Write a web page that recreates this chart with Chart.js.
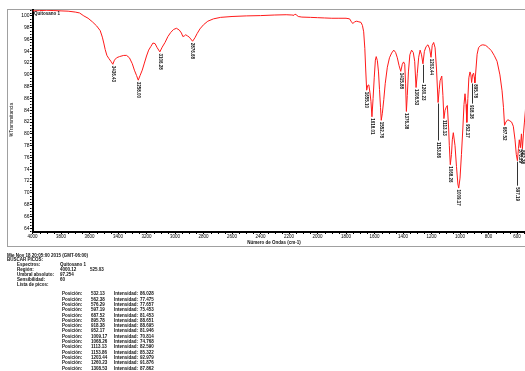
<!DOCTYPE html>
<html><head><meta charset="utf-8">
<script src="https://cdn.jsdelivr.net/npm/chart.js@4.4.1/dist/chart.umd.min.js"></script>
<style>
html,body{margin:0;padding:0;width:525px;height:371px;overflow:hidden;background:#fff;}
#wrap{position:relative;width:525px;height:371px;overflow:hidden;font-family:"Liberation Sans",Arial,sans-serif;color:#000;}
#frame{position:absolute;left:7px;top:9px;width:560px;height:238px;border:1px solid #a0a0a0;box-sizing:border-box;}
canvas{position:absolute;left:0;top:0;}
.t{position:absolute;white-space:nowrap;font-size:4.5px;line-height:5px;height:5px;font-weight:bold;color:#111;}
</style></head>
<body><div id="wrap">
<div id="frame"></div>
<canvas id="c" width="540" height="250"></canvas>
<div class="t" style="left:34px;top:11px">Quitosano 1</div>
<div class="t" style="left:10.5px;top:120px;transform:translate(-50%,-50%) rotate(-90deg);font-size:4.8px;font-weight:normal">%Transmitancia</div>
<div class="t" style="left:274px;top:241.7px;transform:translate(-50%,-50%);">Número de Ondas (cm-1)</div>
<div id="info"></div>
</div>
<script>
// ---- spectrum data (wavenumber cm-1, %T) ----
const wavenumbers = [4000.12,3950,3900,3850,3800,3750,3700,3670,3640,3610,3580,3550,3525,3510,3500,3490,3478,3465,3450,3436.43,3425,3410,3390,3360,3340,3320,3300,3285,3270,3258,3245,3230,3215,3200,3185,3170,3155,3140,3125,3106.28,3090,3070,3050,3030,3010,2990,2970,2955,2945,2935,2925,2912,2900,2890,2876.68,2860,2845,2825,2800,2770,2730,2680,2600,2500,2400,2300,2220,2180,2165,2158,2150,2135,2110,2050,2000,1950,1900,1850,1800,1775,1762,1752,1740,1725,1710,1695,1685,1676,1668,1662,1655.10,1648,1640,1632,1625,1618.01,1610,1602,1594,1588,1580,1572,1565,1558,1552.78,1545,1535,1525,1510,1495,1480,1465,1452,1440,1428,1415.88,1405,1396,1388,1382,1376.38,1370,1362,1352,1340,1328,1318,1308.53,1300,1290,1280,1270,1260.23,1250,1238,1225,1213,1203.44,1195,1185,1175,1165,1153.86,1146,1140,1128,1120,1113.13,1105,1097,1089,1080,1075,1068.26,1060,1054,1047,1035,1025,1015,1009.17,1000,990,980,972,965,958,952.17,945,938,930,924,918.38,912,905,900,895.78,888,880,870,855,840,820,800,780,760,740,720,705,695,687.52,678,665,650,638,626,614,605,597.19,590,584,576.29,569,562.38,555,548,541,536,532.13,528,525.03];
const transmittance = [100.85,100.9,100.95,100.9,100.85,100.8,100.65,100.5,100.0,99.6,99.0,98.3,97.5,96.4,95.4,94.3,93.3,92.8,92.3,91.8,92.5,92.9,93.1,93.3,93.3,92.9,91.9,90.8,89.9,89.1,89.9,90.8,92.0,93.2,94.2,94.8,95.4,95.3,94.6,93.9,94.7,95.5,96.5,97.2,97.7,97.9,97.6,97.1,96.5,96.6,96.8,96.6,96.4,96.1,95.7,96.3,97.0,97.8,98.5,99.1,99.5,99.75,99.9,100.0,100.05,100.15,100.2,100.15,100.1,100.3,100.2,99.9,99.8,99.75,99.7,99.65,99.6,99.6,99.6,99.5,99.0,98.7,99.0,99.1,99.0,98.9,98.4,97.3,94.5,91.0,87.4,88.2,88.3,87.0,85.5,82.9,86.0,89.5,92.5,93.1,92.4,90.5,87.5,84.5,82.3,83.5,85.8,88.5,91.3,92.9,93.7,94.2,93.8,92.9,91.6,90.6,91.8,92.2,91.8,88.5,83.8,86.5,90.5,93.4,94.2,93.8,92.3,87.86,90.2,93.0,94.2,93.4,91.88,94.0,94.8,95.1,94.4,92.98,95.0,95.5,94.6,91.0,85.32,87.5,89.0,89.8,86.5,82.59,84.0,84.5,84.8,81.0,78.0,74.77,76.5,79.0,80.2,78.0,74.5,71.5,70.81,72.5,76.5,81.0,85.0,86.8,85.0,81.95,86.0,89.5,90.5,90.0,88.70,90.0,90.3,89.6,88.65,91.0,93.5,94.6,95.0,95.1,95.0,94.6,94.1,93.3,92.3,90.0,87.3,84.5,81.45,82.0,82.4,82.2,82.0,81.3,79.0,76.5,75.45,77.5,79.0,77.66,80.0,77.48,80.0,82.0,84.0,86.8,86.03,87.5,88.0];

// ---- peak picking results ----
const peakWavenumbers = [3436.43,3258.00,3106.28,2876.68,1655.10,1618.01,1552.78,1415.88,1376.38,1308.53,1260.23,1203.44,1153.86,1113.13,1068.26,1009.17,952.17,918.38,895.78,687.52,597.19,576.29,562.38,532.13];
const peakIntensities = [91.80,89.10,93.90,95.70,87.40,82.90,82.30,90.60,83.80,87.862,91.876,92.979,85.322,82.590,74.768,70.814,81.946,88.695,88.651,81.453,75.453,77.657,77.475,86.028];

// ---- axis ticks ----
const xTickValues = [4000,3800,3600,3400,3200,3000,2800,2600,2400,2200,2000,1800,1600,1400,1200,1000,800,600];
const yTickValues = [64,66,68,70,72,74,76,78,80,82,84,86,88,90,92,94,96,98,100];

// ---- header texts ----
const headerDate = "Mie Nov 18 20:05:00 2015 (GMT-06:00)";
const spectrumName = "Quitosano 1";
const regionValues = ["4000.12","525.03"];
const thresholdValue = "97.254";
const sensitivityValue = "60";
const tableRowCount = 15;

// style: leader line lengths for displaced labels (px)
const leaderLen = {"1260.23":19,"1153.86":38,"918.38":21,"597.19":25};

const FONT = '"Liberation Sans", Arial, sans-serif';

const minorTicks = {
  id:'minorTicks',
  afterDraw(chart){
    const ctx = chart.ctx, xs = chart.scales.x, ys = chart.scales.y, a = chart.chartArea;
    ctx.save(); ctx.strokeStyle='#000'; ctx.lineWidth=1; ctx.beginPath();
    for(let v=550; v<=4000; v+=50){ if(v%200===0) continue; const px=Math.round(xs.getPixelForValue(v))+0.5; ctx.moveTo(px,a.bottom+1); ctx.lineTo(px,a.bottom+2.5);} 
    for(let v=63.5; v<=101; v+=0.5){ if(v%2===0) continue; const py=Math.round(ys.getPixelForValue(v))+0.5; ctx.moveTo(a.left-1,py); ctx.lineTo(a.left-2.5,py);} 
    ctx.stroke(); ctx.restore();
  }
};

const peakLabels = {
  id:'peakLabels',
  afterDatasetsDraw(chart){
    const ctx = chart.ctx, xs = chart.scales.x, ys = chart.scales.y;
    ctx.save();
    ctx.font = 'bold 4.5px ' + FONT;
    peakWavenumbers.forEach((wn,i)=>{
      const txt = wn.toFixed(2);
      const px = xs.getPixelForValue(wn), py = ys.getPixelForValue(peakIntensities[i]);
      const L = leaderLen[txt] || 0;
      if(L>0){ ctx.strokeStyle='#333'; ctx.lineWidth=1; ctx.beginPath(); ctx.moveTo(Math.round(px)+0.5,py+1); ctx.lineTo(Math.round(px)+0.5,py+L); ctx.stroke(); }
      ctx.save(); ctx.translate(px, py + L + 1.5); ctx.rotate(Math.PI/2);
      ctx.fillStyle='#111'; ctx.textAlign='left'; ctx.textBaseline='middle';
      ctx.fillText(txt,0,0); ctx.restore();
    });
    ctx.restore();
  }
};

const pts = wavenumbers.map((w,i)=>({x:w,y:transmittance[i]}));

new Chart(document.getElementById('c'),{
  type:'scatter',
  data:{datasets:[{data:pts,showLine:true,borderColor:'#ff1a1a',borderWidth:1,pointRadius:0,tension:0,fill:false}]},
  options:{
    responsive:false, animation:false, events:[],
    layout:{padding:{left:0,top:10,right:12.3,bottom:0}},
    plugins:{legend:{display:false},tooltip:{enabled:false},title:{display:false}},
    scales:{
      x:{type:'linear',reverse:true,min:525.03,max:4000.12,
        afterBuildTicks:a=>{a.ticks=xTickValues.map(v=>({value:v}));},
        afterFit:s=>{s.height=18.5;},
        ticks:{autoSkip:false,maxRotation:0,minRotation:0,padding:0,color:'#000',font:{size:4.5,family:FONT},callback:v=>String(v)},
        grid:{display:true,drawOnChartArea:false,drawTicks:true,tickLength:2.5,tickColor:'#000',tickWidth:1},
        border:{display:true,color:'#000',width:2}},
      y:{type:'linear',min:63.45,max:101,
        afterBuildTicks:a=>{a.ticks=yTickValues.map(v=>({value:v}));},
        afterFit:s=>{s.width=32.5;},
        ticks:{autoSkip:false,padding:0.5,color:'#000',font:{size:5,family:FONT},callback:v=>String(v)},
        grid:{display:true,drawOnChartArea:false,drawTicks:true,tickLength:2.5,tickColor:'#000',tickWidth:1},
        border:{display:true,color:'#000',width:2}}
    }
  },
  plugins:[minorTicks,peakLabels]
});

// ---- text block below the chart ----
const info = document.getElementById('info');
function put(text,left,top){const d=document.createElement('div');d.className='t';d.style.left=left+'px';d.style.top=top+'px';d.textContent=text;info.appendChild(d);}
put(headerDate,7,252.5);
put('BUSCAR PICOS:',7,256.5);
put('Espectros:',17,262); put(spectrumName,60,262);
put('Región:',17,267.2); put(regionValues[0],60,267.2); put(regionValues[1],90,267.2);
put('Umbral absoluto:',17,272); put(thresholdValue,60,272);
put('Sensibilidad:',17,277); put(sensitivityValue,60,277);
put('Lista de picos:',17,282);
const order = peakWavenumbers.map((w,i)=>i).sort((a,b)=>peakWavenumbers[a]-peakWavenumbers[b]).slice(0,tableRowCount);
order.forEach((idx,r)=>{
  const top = 291.3 + r*5.3;
  put('Posición:',62,top); put(peakWavenumbers[idx].toFixed(2),91,top);
  put('Intensidad:',114,top); put(peakIntensities[idx].toFixed(3),140,top);
});
</script>
</body></html>
